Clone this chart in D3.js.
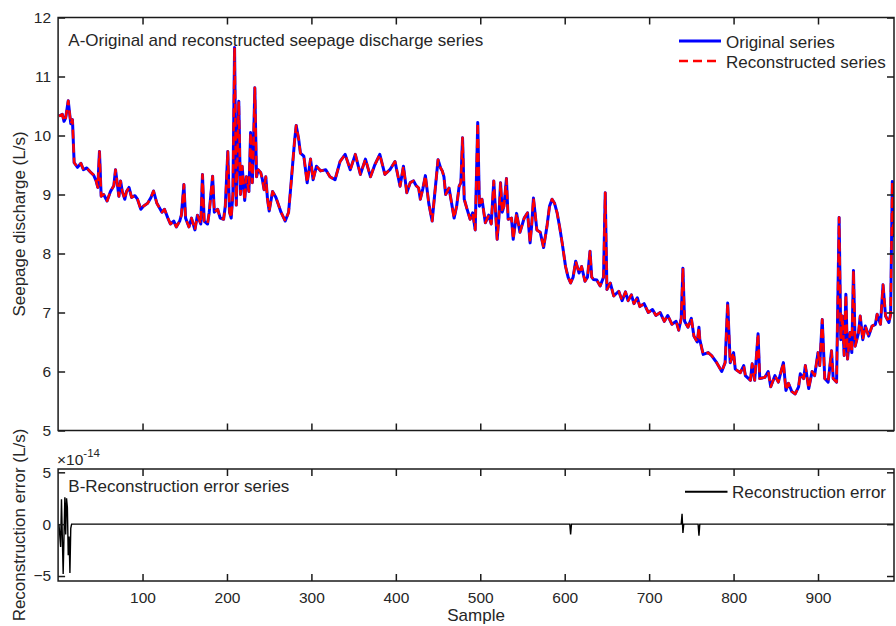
<!DOCTYPE html>
<meta charset="utf-8">
<style>
body { margin: 0; background: #fff; }
svg { font-family: "Liberation Sans", Arial, sans-serif; }
.axis text { font-size: 15.5px; fill: #262626; }
.axis line { stroke: #1a1a1a; stroke-width: 1.5px; }
.axis path { display: none; }
.lbl { font-size: 17px; fill: #262626; }
</style>
<svg width="896" height="626"></svg>
<script src="https://d3js.org/d3.v7.min.js"></script>
<script>

// seepage discharge series (L/s) as [sample, value]
var original = [
  [1,10.33],[5,10.36],[7,10.24],[9,10.3],[12,10.59],[15,10.2],[17,10.27],[19,9.54],[23,9.46],[27,9.53],
  [30,9.42],[34,9.45],[37,9.4],[39,9.37],[42,9.33],[45,9.23],[47,9.12],[49,9.73],[51,8.97],[54,9.0],
  [58,8.89],[62,9.05],[66,9.15],[68,9.42],[72,8.97],[74,9.23],[76,9.05],[79,8.92],[81,9.05],[84,9.12],
  [87,8.95],[91,8.98],[94,8.92],[98,8.75],[101,8.8],[106,8.85],[110,8.95],[113,9.06],[117,8.85],[119,8.8],
  [123,8.7],[126,8.75],[130,8.6],[133,8.5],[137,8.55],[140,8.45],[144,8.55],[146,8.65],[149,9.17],[151,8.6],
  [155,8.45],[158,8.6],[162,8.4],[165,8.65],[169,8.5],[171,9.34],[173,8.55],[177,8.5],[179,8.7],[183,9.31],
  [185,8.7],[189,8.75],[192,8.6],[196,8.58],[198,8.8],[201,9.73],[203,8.7],[205,8.6],[207,9.0],[209,11.49],
  [211,8.82],[214,10.58],[216,9.0],[218,9.48],[221,8.9],[223,9.3],[226,9.05],[228,10.05],[230,9.2],[231,9.6],
  [233,10.81],[235,9.3],[237,9.42],[240,9.37],[242,9.25],[244,9.08],[246,9.3],[248,8.92],[250,8.72],[254,9.05],
  [258,8.95],[264,8.7],[269,8.55],[273,8.7],[276,9.2],[280,9.9],[282,10.17],[285,9.93],[287,9.7],[291,9.65],
  [295,9.2],[299,9.6],[302,9.25],[306,9.48],[311,9.4],[317,9.42],[322,9.3],[328,9.25],[334,9.56],[340,9.68],
  [346,9.42],[352,9.68],[358,9.34],[364,9.6],[370,9.3],[375,9.5],[381,9.68],[387,9.34],[393,9.42],[399,9.56],
  [405,9.14],[409,9.48],[413,9.03],[417,9.2],[421,9.23],[424,9.15],[427,9.11],[429,8.92],[432,9.1],[435,9.32],
  [439,8.85],[443,8.55],[446,9.0],[450,9.59],[453,9.45],[455,9.4],[457,9.3],[459,9.0],[463,9.11],[465,8.94],
  [469,8.6],[472,8.8],[475,9.14],[477,9.2],[479,9.96],[481,8.92],[484,8.77],[488,8.58],[491,8.69],[494,8.4],
  [497,10.22],[499,8.8],[502,8.92],[506,8.52],[510,8.65],[513,8.5],[516,9.23],[520,8.24],[522,8.6],[524,9.2],
  [526,8.7],[528,8.8],[531,9.27],[533,8.58],[537,8.6],[539,8.24],[543,8.68],[547,8.36],[552,8.6],[556,8.69],
  [559,8.18],[561,8.5],[563,8.94],[567,8.4],[571,8.36],[575,8.1],[579,8.46],[582,8.8],[585,8.92],[588,8.85],
  [591,8.69],[594,8.45],[597,8.18],[601,7.78],[604,7.6],[607,7.5],[610,7.6],[613,7.87],[617,7.67],[620,7.78],
  [624,7.53],[627,7.6],[630,8.04],[632,7.6],[634,7.56],[638,7.55],[642,7.45],[646,7.6],[648,9.03],[650,7.39],
  [654,7.5],[658,7.28],[664,7.36],[668,7.2],[672,7.35],[675,7.2],[679,7.3],[682,7.15],[686,7.25],[689,7.1],
  [694,7.15],[699,7.0],[704,7.05],[708,6.95],[713,7.0],[718,6.85],[722,6.95],[727,6.8],[732,6.85],[735,6.7],
  [738,6.9],[740,7.75],[742,6.85],[746,6.75],[750,6.9],[753,6.6],[757,6.5],[759,6.75],[760,6.54],[764,6.29],
  [770,6.32],[774,6.27],[780,6.15],[786,6.0],[790,6.15],[793,7.16],[796,6.15],[800,6.32],[802,6.04],[808,5.98],
  [812,6.1],[814,5.93],[820,5.85],[822,6.13],[825,5.85],[829,6.64],[831,5.88],[837,5.9],[841,6.0],[844,5.74],
  [849,5.93],[853,5.82],[859,6.15],[862,5.68],[865,5.8],[869,5.66],[873,5.62],[877,5.74],[879,5.96],[883,5.88],
  [885,6.1],[889,5.71],[893,6.0],[896,5.93],[900,6.32],[902,6.1],[905,6.88],[908,5.88],[912,5.82],[916,6.35],
  [918,5.88],[922,5.82],[925,8.61],[927,6.54],[929,6.94],[931,6.27],[933,7.31],[935,6.21],[938,6.66],[940,6.32],
  [942,7.71],[944,6.43],[948,6.66],[950,6.94],[953,6.54],[956,6.77],[960,6.6],[964,6.77],[968,6.8],[970,6.97],
  [974,6.8],[977,7.47],[980,6.94],[984,6.83],[986,6.97],[988,9.22],[989,8.3],[990,8.7]
];
// reconstruction is identical to within 1e-14
var reconstructed = original.slice();

// reconstruction error, units of 1e-14 L/s, zero between listed samples
var recError = [
  [1,0],[3,-2.2],[4,2.4],[6,-4.8],[8,2.6],[9,-1.0],[10,2.5],[11,1.6],[12,-3.0],[13,-1.2],
  [14,-4.7],[15,-0.4],[16,0],[606,0],[607,-1.0],[608,0],[738,0],[739,1.0],[740,-0.85],[741,0],
  [758,0],[759,-1.1],[760,0],[990,0]
];

var xTicks = [100, 200, 300, 400, 500, 600, 700, 800, 900];
var yTicksTop = [5, 6, 7, 8, 9, 10, 11, 12];
var yTicksBottom = [-5, 0, 5];
var xDomain = [0, 990];
var yDomainTop = [5, 12];
var yDomainBottom = [-5.48, 5.32];

var svg = d3.select("svg");
var left = 58.1, right = 894;
var top1 = 17.5, bot1 = 430.5, top2 = 469, bot2 = 581;

var x = d3.scaleLinear().domain(xDomain).range([left, right]);
var y1 = d3.scaleLinear().domain(yDomainTop).range([bot1, top1]);
var y2 = d3.scaleLinear().domain(yDomainBottom).range([bot2, top2]);

function drawAxes(y, yTicks, yTop, yBot, withXLabels) {
  var tk = -7;
  svg.append("g").attr("class", "axis")
    .attr("transform", "translate(0," + yBot + ")")
    .call(d3.axisBottom(x).tickValues(xTicks).tickSize(tk).tickPadding(11)
      .tickFormat(withXLabels ? d3.format("d") : ""));
  svg.append("g").attr("class", "axis")
    .attr("transform", "translate(0," + yTop + ")")
    .call(d3.axisTop(x).tickValues(xTicks).tickSize(tk).tickFormat(""));
  svg.append("g").attr("class", "axis")
    .attr("transform", "translate(" + left + ",0)")
    .call(d3.axisLeft(y).tickValues(yTicks).tickSize(tk).tickPadding(7).tickFormat(d3.format("d")));
  svg.append("g").attr("class", "axis")
    .attr("transform", "translate(" + right + ",0)")
    .call(d3.axisRight(y).tickValues(yTicks).tickSize(tk).tickFormat(""));
}

var clip = svg.append("defs");
clip.append("clipPath").attr("id", "c1").append("rect")
  .attr("x", left).attr("y", top1).attr("width", right - left).attr("height", bot1 - top1);
clip.append("clipPath").attr("id", "c2").append("rect")
  .attr("x", left).attr("y", top2).attr("width", right - left).attr("height", bot2 - top2);

// panel A
var lineA = d3.line().x(function(d) { return x(d[0]); }).y(function(d) { return y1(d[1]); });
var gA = svg.append("g").attr("clip-path", "url(#c1)");
gA.append("path").datum(original).attr("d", lineA)
  .attr("fill", "none").attr("stroke", "#0000ff").attr("stroke-width", 3)
  .attr("stroke-linejoin", "round");
gA.append("path").datum(reconstructed).attr("d", lineA)
  .attr("fill", "none").attr("stroke", "#ff0000").attr("stroke-width", 2.5)
  .attr("stroke-dasharray", "9,5").attr("stroke-linejoin", "round");

// panel B
var lineB = d3.line().x(function(d) { return x(d[0]); }).y(function(d) { return y2(d[1]); });
svg.append("g").attr("clip-path", "url(#c2)")
  .append("path").datum(recError).attr("d", lineB)
  .attr("fill", "none").attr("stroke", "#000").attr("stroke-width", 1.4);

drawAxes(y1, yTicksTop, top1, bot1, false);
drawAxes(y2, yTicksBottom, top2, bot2, true);

svg.append("rect").attr("x", left).attr("y", top1).attr("width", right - left).attr("height", bot1 - top1)
  .attr("fill", "none").attr("stroke", "#1a1a1a").attr("stroke-width", 1.5);
svg.append("rect").attr("x", left).attr("y", top2).attr("width", right - left).attr("height", bot2 - top2)
  .attr("fill", "none").attr("stroke", "#1a1a1a").attr("stroke-width", 1.5);

// panel texts
svg.append("text").attr("class", "lbl").attr("x", 68.3).attr("y", 45.7)
  .text("A-Original and reconstructed seepage discharge series");
svg.append("text").attr("class", "lbl").attr("x", 68.3).attr("y", 492.3)
  .text("B-Reconstruction error series");

// legends
svg.append("line").attr("x1", 679).attr("x2", 721).attr("y1", 41).attr("y2", 41)
  .attr("stroke", "#0000ff").attr("stroke-width", 3);
svg.append("line").attr("x1", 679).attr("x2", 721).attr("y1", 61).attr("y2", 61)
  .attr("stroke", "#ff0000").attr("stroke-width", 2.5).attr("stroke-dasharray", "9,5");
svg.append("text").attr("class", "lbl").attr("x", 726).attr("y", 47.5).text("Original series");
svg.append("text").attr("class", "lbl").attr("x", 726).attr("y", 67.5).text("Reconstructed series");

svg.append("line").attr("x1", 685).attr("x2", 727.5).attr("y1", 491.7).attr("y2", 491.7)
  .attr("stroke", "#000").attr("stroke-width", 2);
svg.append("text").attr("class", "lbl").attr("x", 732).attr("y", 498.3).text("Reconstruction error");

// exponent
var ex = svg.append("text").attr("x", 57).attr("y", 465).attr("fill", "#262626").style("font-size", "15.5px");
ex.append("tspan").text("\u00d710");
ex.append("tspan").attr("dy", -8).style("font-size", "11.5px").text("-14");

// axis labels
svg.append("text").attr("class", "lbl").attr("text-anchor", "middle")
  .attr("transform", "translate(25," + ((top1 + bot1) / 2) + ") rotate(-90)")
  .text("Seepage discharge (L/s)");
svg.append("text").attr("class", "lbl").attr("text-anchor", "middle")
  .attr("transform", "translate(25," + ((top2 + bot2) / 2) + ") rotate(-90)")
  .text("Reconstruction error (L/s)");
svg.append("text").attr("class", "lbl").attr("text-anchor", "middle")
  .attr("x", (left + right) / 2).attr("y", 621).text("Sample");

</script>
